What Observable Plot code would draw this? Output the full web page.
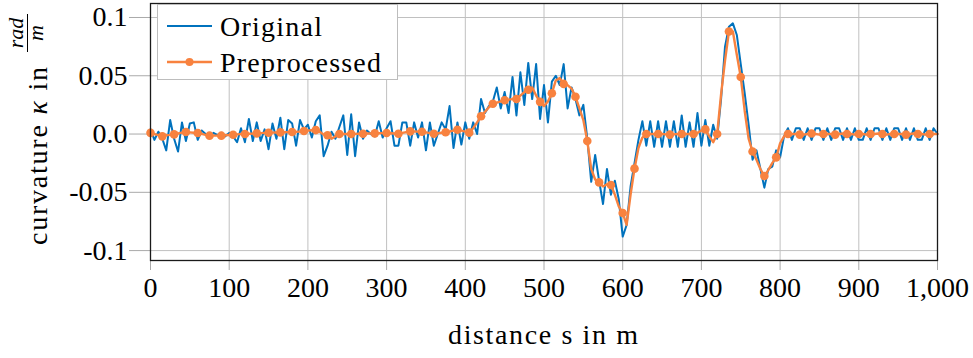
<!DOCTYPE html>
<html>
<head>
<meta charset="utf-8">
<script src="https://cdn.jsdelivr.net/npm/d3@7"></script>
<script src="https://cdn.jsdelivr.net/npm/@observablehq/plot@0.6"></script>
<style>
  html, body { margin: 0; padding: 0; background: #fff; }
  #chart svg { display: block; }
  #chart svg text { font-family: "Liberation Serif", "Times New Roman", serif; }
</style>
</head>
<body>
<div id="chart"></div>
<script>
// Curvature along the track, sampled every STEP metres.
const STEP = 5;

const kappaOriginal = [
  // 0 – 95 m
  0.004, -0.005, 0.002, -0.004, -0.014, 0.012, -0.004, -0.015, 0.010, -0.006,
  0.009, 0.010, -0.005, 0.003, 0.000, -0.002, 0.001, -0.001, 0.001, -0.002,
  // 100 – 195 m
  0.001, -0.002, -0.007, 0.005, -0.007, 0.013, -0.006, 0.010, -0.006, 0.004,
  -0.013, 0.009, -0.004, 0.014, -0.013, 0.012, 0.009, -0.010, 0.012, 0.004,
  // 200 – 295 m
  0.008, -0.003, 0.011, 0.016, -0.019, -0.010, 0.002, -0.004, 0.006, 0.016,
  -0.018, 0.017, -0.019, 0.010, -0.004, 0.003, 0.000, -0.002, 0.011, -0.003,
  // 300 – 395 m
  0.005, 0.011, -0.010, -0.010, 0.010, 0.010, -0.010, 0.010, -0.003, 0.010,
  -0.014, 0.010, -0.010, 0.000, 0.010, 0.004, 0.024, -0.012, 0.010, -0.009,
  // 400 – 495 m
  0.010, -0.004, 0.010, 0.000, 0.030, 0.018, 0.024, 0.028, 0.040, 0.022,
  0.036, 0.018, 0.049, 0.016, 0.053, 0.025, 0.061, 0.030, 0.060, 0.013,
  // 500 – 595 m
  0.042, 0.010, 0.045, 0.050, 0.042, 0.060, 0.022, 0.040, 0.030, 0.016,
  0.025, -0.004, -0.041, -0.018, -0.040, -0.060, -0.030, -0.052, -0.040, -0.056,
  // 600 – 695 m
  -0.088, -0.078, -0.045, -0.025, -0.005, 0.011, -0.010, 0.011, -0.011, 0.011,
  -0.011, 0.011, -0.011, 0.011, -0.011, 0.016, -0.011, 0.010, -0.011, 0.018,
  // 700 – 795 m
  -0.010, 0.012, -0.010, 0.008, -0.004, 0.030, 0.075, 0.092, 0.095, 0.085,
  0.060, 0.035, 0.008, -0.022, -0.014, -0.030, -0.046, -0.030, -0.028, -0.014,
  // 800 – 895 m
  -0.020, -0.002, 0.005, -0.005, 0.005, 0.005, -0.005, 0.005, -0.005, 0.005,
  0.005, -0.005, 0.005, -0.005, 0.005, 0.005, -0.005, 0.005, -0.005, 0.005,
  // 900 – 995 m
  -0.005, -0.005, 0.005, -0.005, 0.005, 0.005, -0.005, 0.005, -0.005, 0.005,
  0.005, -0.005, 0.005, -0.005, 0.005, -0.005, -0.005, 0.005, -0.005, 0.005,
  // 1000 m
  0.000
];

const kappaPreprocessed = [
  // 0 – 95 m
  0.001, 0.000, -0.001, -0.002, -0.001, -0.0007, -0.0003, 0.0005, 0.0012, 0.0017,
  0.0014, 0.0011, 0.0009, 0.0002, -0.0008, -0.0014, -0.0014, -0.0014, -0.0014, -0.001,
  // 100 – 195 m
  -0.0008, -0.0006, -0.0003, -0.0001, 0.000, 0.0002, 0.0004, 0.0006, 0.0008, 0.001,
  0.0011, 0.0012, 0.0013, 0.0014, 0.0015, 0.0016, 0.0017, 0.0019, 0.0022, 0.0026,
  // 200 – 295 m
  0.0029, 0.0032, 0.0034, 0.002, -0.0005, -0.001, -0.004, -0.002, 0.000, 0.000,
  0.000, 0.000, 0.0001, 0.0002, 0.0003, 0.0004, 0.0005, 0.0006, 0.0007, 0.0008,
  // 300 – 395 m
  0.0009, 0.0007, 0.0005, 0.0003, 0.001, 0.0017, 0.0023, 0.0022, 0.0021, 0.002,
  0.0014, 0.0008, 0.0003, 0.0007, 0.0011, 0.0015, 0.0022, 0.003, 0.0037, 0.0029,
  // 400 – 495 m
  0.002, 0.0012, 0.005, 0.010, 0.0152, 0.019, 0.023, 0.026, 0.027, 0.028,
  0.029, 0.0295, 0.030, 0.030, 0.033, 0.036, 0.038, 0.040, 0.033, 0.0276,
  // 500 – 595 m
  0.024, 0.028, 0.035, 0.046, 0.048, 0.043, 0.042, 0.039, 0.032, 0.022,
  0.012, -0.006, -0.030, -0.039, -0.0415, -0.045, -0.043, -0.0437, -0.052, -0.062,
  // 600 – 695 m
  -0.0677, -0.078, -0.052, -0.0297, -0.012, -0.003, 0.000, 0.000, 0.000, 0.000,
  0.000, -0.0003, -0.0005, -0.0003, 0.000, 0.000, 0.000, 0.000, 0.000, 0.001,
  // 700 – 795 m
  0.003, 0.004, -0.002, -0.007, 0.000, 0.034, 0.063, 0.088, 0.088, 0.068,
  0.049, 0.020, -0.004, -0.015, -0.022, -0.030, -0.036, -0.031, -0.025, -0.020,
  // 800 – 895 m
  -0.008, -0.002, 0.000, 0.000, 0.000, -0.0005, -0.0005, 0.000, 0.0005, 0.000,
  -0.0005, 0.000, 0.000, 0.000, -0.0005, 0.000, 0.0005, 0.000, 0.000, -0.0005,
  // 900 – 995 m
  0.000, 0.000, -0.0005, 0.000, 0.000, 0.0005, 0.000, -0.0005, 0.000, 0.000,
  0.000, 0.000, -0.0005, 0.000, 0.0005, 0.000, 0.000, -0.0005, 0.000, 0.000,
  // 1000 m
  0.000
];

// a marker on every third preprocessed sample
const MARK_EVERY = 3;

const seriesNames = ["Original", "Preprocessed"];
const seriesColors = ["#0072bd", "#f8823f"];

const xTicks = [0, 100, 200, 300, 400, 500, 600, 700, 800, 900, 1000];
const xTickLabels = ["0", "100", "200", "300", "400", "500", "600", "700", "800", "900", "1,000"];
const yTicks = [-0.1, -0.05, 0, 0.05, 0.1];
const yTickLabels = ["-0.1", "-0.05", "0.0", "0.05", "0.1"];

const xTitle = "distance s in m";

const FONT = "'Liberation Serif', 'Times New Roman', serif";
const GRID = "#c0c0c0";

const original = kappaOriginal.map((k, i) => ({ s: i * STEP, k }));
const preprocessed = kappaPreprocessed.map((k, i) => ({ s: i * STEP, k }));
const preprocessedMarks = preprocessed.filter((d, i) => i % MARK_EVERY === 0);

const chart = Plot.plot({
  width: 973,
  height: 358,
  marginLeft: 150,
  marginRight: 36,
  marginTop: 3,
  marginBottom: 98,
  style: { fontFamily: FONT, fontSize: "28px", color: "#000", background: "#fff" },
  x: { domain: [0, 1000] },
  y: { domain: [-0.1085, 0.112] },
  marks: [
    Plot.gridX(xTicks, { stroke: GRID, strokeOpacity: 1, strokeWidth: 1 }),
    Plot.gridY(yTicks, { stroke: GRID, strokeOpacity: 1, strokeWidth: 1 }),
    Plot.axisX(xTicks, {
      tickSize: 10, tickPadding: 7, stroke: "#aaaaaa", fill: "#000",
      fontSize: 28, label: null,
      tickFormat: d => xTickLabels[xTicks.indexOf(d)]
    }),
    Plot.axisY(yTicks, {
      tickSize: 21, tickPadding: 2, stroke: "#aaaaaa", fill: "#000",
      fontSize: 28, label: null,
      tickFormat: d => yTickLabels[yTicks.indexOf(d)]
    }),
    Plot.line(original, { x: "s", y: "k", stroke: seriesColors[0], strokeWidth: 2 }),
    Plot.line(preprocessed, { x: "s", y: "k", stroke: seriesColors[1], strokeWidth: 2.4 }),
    Plot.dot(preprocessedMarks, { x: "s", y: "k", r: 4.3, fill: seriesColors[1], stroke: "none" }),
    Plot.frame({ stroke: "#1a1a1a", strokeWidth: 1.3 })
  ]
});

document.getElementById("chart").appendChild(chart);

const svg = d3.select(chart);

// x-axis title
svg.append("text")
  .attr("x", 543).attr("y", 344)
  .attr("text-anchor", "middle")
  .attr("font-size", 28).attr("fill", "#000")
  .attr("textLength", 190).attr("lengthAdjust", "spacing")
  .text(xTitle);

// y-axis title: curvature κ in rad/m, with a stacked fraction
const yTitle = svg.append("g")
  .attr("transform", "translate(47,245) rotate(-90)")
  .attr("fill", "#000");
const yText = yTitle.append("text").attr("x", 0).attr("y", 0).attr("font-size", 28)
  .attr("text-anchor", "start")
  .attr("textLength", 178).attr("lengthAdjust", "spacing");
yText.append("tspan").text("curvature ");
yText.append("tspan").attr("font-style", "italic").text("κ");
yText.append("tspan").text(" in");
const fracX = 212;
yTitle.append("text").attr("x", fracX).attr("y", -24).attr("text-anchor", "middle")
  .attr("font-size", 22).attr("font-style", "italic").text("rad");
yTitle.append("line").attr("x1", fracX - 19).attr("x2", fracX + 19)
  .attr("y1", -19.5).attr("y2", -19.5).attr("stroke", "#000").attr("stroke-width", 1);
yTitle.append("text").attr("x", fracX).attr("y", -4).attr("text-anchor", "middle")
  .attr("font-size", 22).attr("font-style", "italic").text("m");

// legend
const legend = svg.append("g").attr("font-size", 28);
legend.append("rect")
  .attr("x", 157.5).attr("y", 4.5).attr("width", 240).attr("height", 75)
  .attr("fill", "#fff").attr("stroke", "#bdbdbd").attr("stroke-width", 1);
const rows = [
  { name: seriesNames[0], color: seriesColors[0], y: 26, dot: false, len: 102 },
  { name: seriesNames[1], color: seriesColors[1], y: 62, dot: true, len: 161 }
];
rows.forEach(r => {
  legend.append("line").attr("x1", 167).attr("x2", 212).attr("y1", r.y).attr("y2", r.y)
    .attr("stroke", r.color).attr("stroke-width", r.dot ? 2.4 : 2.2);
  if (r.dot) legend.append("circle").attr("cx", 189.5).attr("cy", r.y).attr("r", 4).attr("fill", r.color);
  legend.append("text").attr("x", 220).attr("y", r.y + 9.5).attr("fill", "#000")
    .attr("text-anchor", "start")
    .attr("textLength", r.len).attr("lengthAdjust", "spacing").text(r.name);
});
</script>
</body>
</html>
